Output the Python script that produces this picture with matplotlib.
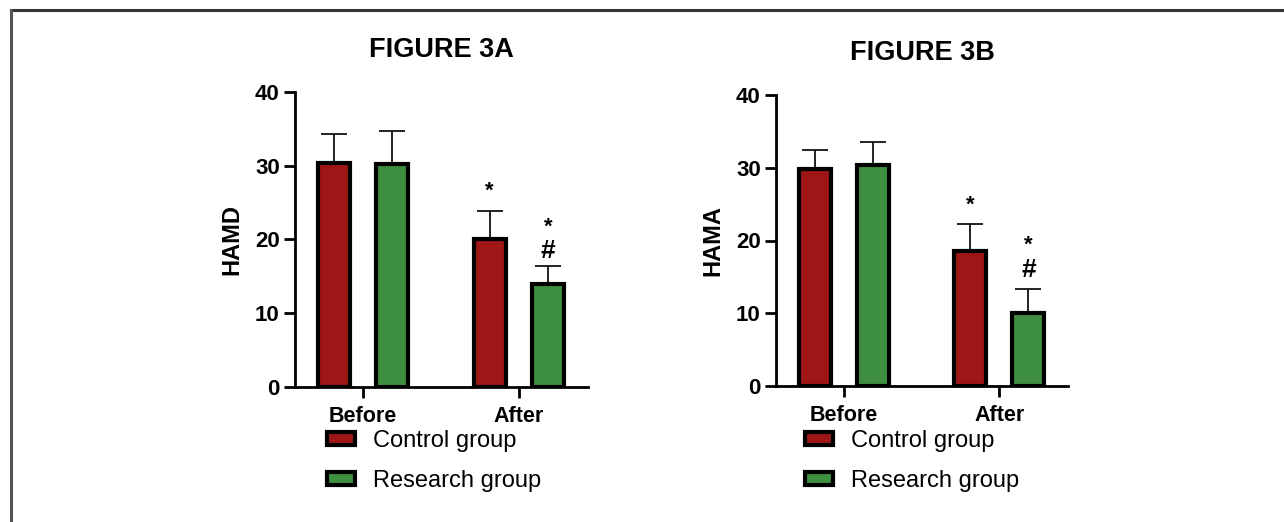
import matplotlib
matplotlib.use('Agg')
import matplotlib.pyplot as plt
from matplotlib.patches import Patch
from matplotlib.lines import Line2D
import numpy as np

plt.rcParams['font.family'] = ['Liberation Sans', 'DejaVu Sans']

# dane
stages = ['Before', 'After']
groups = ['Control group', 'Research group']
colors = ['#9e1616', '#3e8f3f']

hamd_mean = {'Control group': [30.4, 20.0], 'Research group': [30.2, 14.0]}
hamd_sd = {'Control group': [3.9, 3.9], 'Research group': [4.5, 2.4]}
hama_mean = {'Control group': [29.8, 18.6], 'Research group': [30.4, 10.1]}
hama_sd = {'Control group': [2.6, 3.6], 'Research group': [3.2, 3.2]}

# znaczniki istotności (grupa, etap, tekst, wysokość)
hamd_marks = [('Control group', 1, '*', 26.6), ('Research group', 1, '*', 21.6),
              ('Research group', 1, '#', 18.4)]
hama_marks = [('Control group', 1, '*', 24.8), ('Research group', 1, '*', 19.4),
              ('Research group', 1, '#', 15.9)]

fig = plt.figure(figsize=(12.84, 5.22), dpi=100)

# ramka (górna i lewa krawędź)
fig.add_artist(Line2D([11 / 1284, 1.0], [1 - 10 / 522] * 2, color='#333333', lw=2.2,
                      transform=fig.transFigure))
fig.add_artist(Line2D([11 / 1284] * 2, [0.0, 1 - 10 / 522], color='#555555', lw=2.2,
                      transform=fig.transFigure))

panels = [
    ([295 / 1284, 1 - 386.7 / 522, 293 / 1284, 294.7 / 522], 'FIGURE 3A', 'HAMD',
     hamd_mean, hamd_sd, hamd_marks, 327),
    ([776 / 1284, 1 - 386 / 522, 292 / 1284, 291 / 522], 'FIGURE 3B', 'HAMA',
     hama_mean, hama_sd, hama_marks, 805),
]

offsets = [-0.1875, 0.1875]
x = np.arange(len(stages))

for rect, title, ylabel, means, sds, marks, leg_x in panels:
    ax = fig.add_axes(rect)
    for i, g in enumerate(groups):
        ax.bar(x + offsets[i], means[g], width=0.205, color=colors[i],
               edgecolor='black', linewidth=3.0, zorder=3)
        # słupek błędu tylko w górę, dolna kreska schowana pod słupkiem
        ax.errorbar(x + offsets[i], means[g], yerr=sds[g], fmt='none',
                    ecolor='#111111', elinewidth=1.3, capthick=1.3, capsize=9.5,
                    zorder=1)
    for g, st, txt, h in marks:
        xi = x[st] + offsets[groups.index(g)]
        ax.text(xi, h, txt, ha='center', va='center',
                fontsize=19 if txt == '#' else 16, fontweight='bold')

    ax.set_xlim(-0.438, 1.443)
    ax.set_ylim(0, 40)
    ax.set_yticks([0, 10, 20, 30, 40])
    ax.set_xticks(x)
    ax.set_xticklabels(stages, fontsize=15.5, fontweight='bold')
    ax.tick_params(axis='y', labelsize=16, width=2, length=8, pad=3)
    for lab in ax.get_yticklabels():
        lab.set_fontweight('bold')
    ax.tick_params(axis='x', width=2, length=8, pad=6)
    ax.spines['top'].set_visible(False)
    ax.spines['right'].set_visible(False)
    ax.spines['left'].set_linewidth(2)
    ax.spines['bottom'].set_linewidth(2)
    ax.set_ylabel(ylabel, fontsize=17, fontweight='bold', labelpad=8)
    ax.set_title(title, fontsize=19.5, fontweight='bold', pad=25)

    handles = [Patch(facecolor=colors[i], edgecolor='black', linewidth=3, label=g)
               for i, g in enumerate(groups)]
    fig.legend(handles=handles, loc='upper left',
               bbox_to_anchor=(leg_x / 1284, 1 - 430 / 522),
               frameon=False, fontsize=17, handlelength=1.2, handleheight=0.5,
               handletextpad=0.75, labelspacing=0.76, borderpad=0, borderaxespad=0)

fig.savefig('out.png', dpi=100, facecolor='white')
